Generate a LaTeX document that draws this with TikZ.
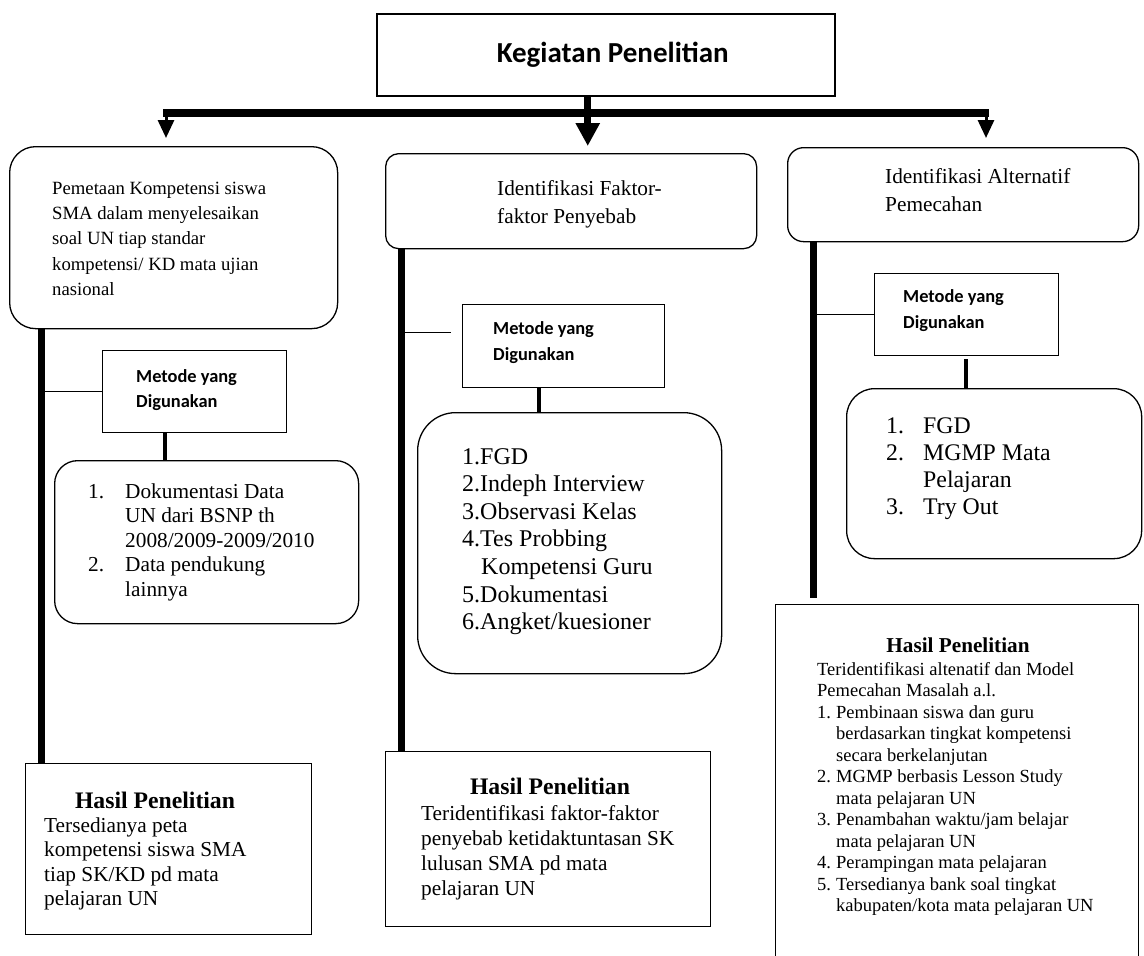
\documentclass[tikz,border=0pt]{standalone}
\usepackage{fontspec}
\setmainfont{Liberation Serif}
\newfontfamily\calib{Carlito}
\usetikzlibrary{arrows.meta}
\newcommand\myl[1]{\hbox{#1}}
\newcommand\blk[2]{\vtop{\baselineskip=#1\lineskiplimit=-100pt\lineskip=0pt #2}}
\newcommand\bxn[6]{\node[#6, minimum width=\fpeval{#4-#2}pt, minimum height=\fpeval{#5-#3}pt] (#1) at (#2,#3) {};}
\tikzset{
  bx/.style={draw, line width=1.3pt, inner sep=0pt, anchor=north west},
  rbx/.style={bx, rounded corners=#1},
  txt/.style={anchor=base west, inner sep=0pt},
  ttl/.style={anchor=base, inner sep=0pt, font=\fontsize{23.7}{26}\selectfont\bfseries},
  mtd/.style={txt, font=\fontsize{18.4}{26}\selectfont\calib\bfseries},
  bigarr/.style={line width=7pt, -{Triangle[length=23pt,width=23pt]}},
  smarr/.style={line width=3pt, -{Triangle[length=18pt,width=16pt]}},
  thk/.style={line width=7pt},
  thn/.style={line width=1.5pt},
  stub/.style={line width=4pt},
}
\begin{document}
\begin{tikzpicture}[x=1pt,y=-1pt]
\useasboundingbox (0,0) rectangle (1144,956);
\fill[white] (0,0) rectangle (1144,956);

% top box
\node[bx, line width=1.5pt, minimum width=458pt, minimum height=82pt,
      font=\fontsize{29}{32}\selectfont\calib\bfseries] (top) at (376,13) {\hspace*{14pt}Kegiatan Penelitian};

% level-1 boxes
\bxn{b1}{9}{146}{337}{328}{rbx=26pt}
\bxn{b2}{385}{153}{756}{248}{rbx=13pt}
\bxn{b3}{787}{147}{1138}{241}{rbx=16pt}

% bar and arrows
\coordinate (barL) at (163,113);
\coordinate (barR) at (989,113);
\draw[line width=8pt] (barL) -- (barR);
\coordinate (aL) at (166,113);
\coordinate (aR) at (986,113);
\draw[smarr, shorten >=8pt] (aL) -- (aL |- b1.north);
\draw[smarr, shorten >=9pt] (aR) -- (aR |- b3.north);
\coordinate (stem) at ([xshift=-18pt]top.south);
\draw[bigarr, shorten >=7pt] (stem) -- (stem |- b2.north);

% texts of level-1 boxes
\node[txt, font=\fontsize{18.7}{25}\selectfont] (t1) at (52,194) {\blk{25.4pt}{%
  \myl{Pemetaan Kompetensi siswa}\myl{SMA dalam menyelesaikan}\myl{soal UN tiap standar}%
  \myl{kompetensi/ KD mata ujian}\myl{nasional}}};
\node[txt, font=\fontsize{21.3}{25}\selectfont] (t2) at (497,195) {\blk{28pt}{%
  \myl{Identifikasi Faktor-}\myl{faktor Penyebab}}};
\node[txt, font=\fontsize{21.3}{25}\selectfont] (t3) at (885,183) {\blk{28pt}{%
  \myl{Identifikasi Alternatif}\myl{Pemecahan}}};

% Metode boxes
\bxn{m1}{102}{350}{286}{432}{bx}
\bxn{m2}{462}{304}{664}{387}{bx}
\bxn{m3}{874}{273}{1058}{355}{bx}
\node[mtd] (mt1) at (136,382) {\blk{25.5pt}{\myl{Metode yang}\myl{Digunakan}}};
\node[mtd] (mt2) at (493,334) {\blk{26pt}{\myl{Metode yang}\myl{Digunakan}}};
\node[mtd] (mt3) at (903,302) {\blk{26pt}{\myl{Metode yang}\myl{Digunakan}}};

% list boxes
\bxn{l1}{54}{460}{358}{623}{rbx=23pt}
\bxn{l2}{417}{412}{721}{673}{rbx=38pt}
\bxn{l3}{846}{388}{1141}{558}{rbx=28pt}
\node[txt, font=\fontsize{21.3}{25}\selectfont] (lt1) at (88,498) {\blk{24.6pt}{%
  \myl{\makebox[37pt][l]{1.}Dokumentasi Data}%
  \myl{\hspace*{37pt}UN dari BSNP th}%
  \myl{\hspace*{37pt}2008/2009-2009/2010}%
  \myl{\makebox[37pt][l]{2.}Data pendukung}%
  \myl{\hspace*{37pt}lainnya}}};
\node[txt, font=\fontsize{24}{27}\selectfont] (lt2) at (462,464) {\blk{27.6pt}{%
  \myl{1.FGD}\myl{2.Indeph Interview}\myl{3.Observasi Kelas}%
  \myl{4.Tes Probbing}\myl{\hspace*{19pt}Kompetensi Guru}%
  \myl{5.Dokumentasi}\myl{6.Angket/kuesioner}}};
\node[txt, font=\fontsize{23.8}{27}\selectfont] (lt3) at (886,433) {\blk{27.3pt}{%
  \myl{\makebox[37pt][l]{1.}FGD}\myl{\makebox[37pt][l]{2.}MGMP Mata}%
  \myl{\hspace*{37pt}Pelajaran}\myl{\makebox[37pt][l]{3.}Try Out}}};

% Hasil boxes
\bxn{h1}{25}{763}{311}{934}{bx}
\bxn{h2}{385}{751}{710}{926}{bx}
\bxn{h3}{775}{604}{1138}{958}{bx}
\node[ttl] (ht1) at (155,808) {Hasil Penelitian};
\node[ttl] (ht2) at (550,794) {Hasil Penelitian};
\node[ttl, font=\fontsize{21.2}{24}\selectfont\bfseries] (ht3) at (958,652) {Hasil Penelitian};
\node[txt, font=\fontsize{21.3}{25}\selectfont] (hx1) at (44,832) {\blk{24.5pt}{%
  \myl{Tersedianya peta}\myl{kompetensi siswa SMA}\myl{tiap SK/KD pd mata}\myl{pelajaran UN}}};
\node[txt, font=\fontsize{21.3}{25}\selectfont] (hx2) at (421,820) {\blk{25pt}{%
  \myl{Teridentifikasi faktor-faktor}\myl{penyebab ketidaktuntasan SK}%
  \myl{lulusan SMA pd mata}\myl{pelajaran UN}}};
\node[txt, font=\fontsize{18.5}{21.6}\selectfont] (hx3) at (817,675) {\blk{21.5pt}{%
  \myl{Teridentifikasi altenatif dan Model}\myl{Pemecahan Masalah a.l.}%
  \myl{\makebox[19pt][l]{1.}Pembinaan siswa dan guru}%
  \myl{\hspace*{19pt}berdasarkan tingkat kompetensi}%
  \myl{\hspace*{19pt}secara berkelanjutan}%
  \myl{\makebox[19pt][l]{2.}MGMP berbasis Lesson Study}%
  \myl{\hspace*{19pt}mata pelajaran UN}%
  \myl{\makebox[19pt][l]{3.}Penambahan waktu/jam belajar}%
  \myl{\hspace*{19pt}mata pelajaran UN}%
  \myl{\makebox[19pt][l]{4.}Perampingan mata pelajaran}%
  \myl{\makebox[19pt][l]{5.}Tersedianya bank soal tingkat}%
  \myl{\hspace*{19pt}kabupaten/kota mata pelajaran UN}}};

% thick vertical lines
\coordinate (v1) at ([xshift=32.5pt]b1.south west);
\coordinate (v2) at ([xshift=16pt]b2.south west);
\coordinate (v3) at ([xshift=26pt]b3.south west);
\draw[thk] (v1) -- (v1 |- h1.north);
\draw[thk] (v2) -- (v2 |- h2.north);
\draw[thk, shorten >=6pt] (v3) -- (v3 |- h3.north);

% thin lines to Metode boxes
\coordinate (c2) at ([yshift=13.5pt]m2.west);
\draw[thn] (v1 |- m1.west) -- (m1.west);
\draw[thn, shorten >=11pt] (v2 |- c2) -- (c2);
\draw[thn] (v3 |- m3.west) -- (m3.west);

% stubs Metode -> list
\draw[stub] ([xshift=63pt]m1.south west) -- ([xshift=111pt]l1.north west);
\draw[stub] ([xshift=77pt]m2.south west) -- ([xshift=122pt]l2.north west);
\draw[stub] ([xshift=92pt,yshift=-3pt]m3.south west) -- ([xshift=120pt]l3.north west);
\end{tikzpicture}
\end{document}
